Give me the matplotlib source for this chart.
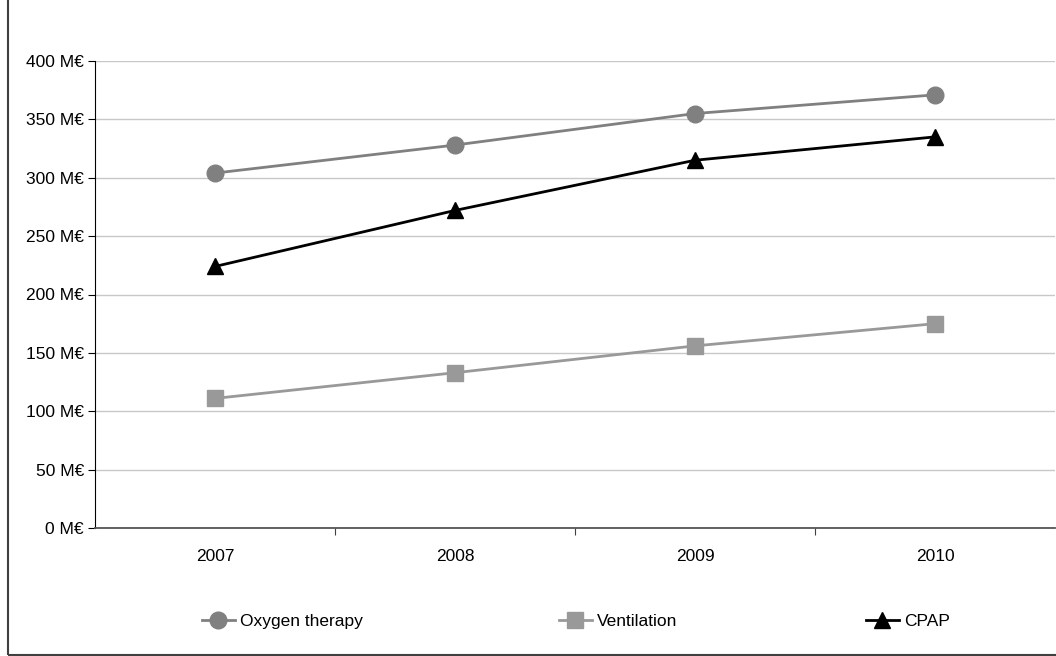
import matplotlib
matplotlib.use("Agg")
import matplotlib.pyplot as plt
from matplotlib.patches import Rectangle

plt.rcParams['font.family'] = ['Liberation Sans Narrow', 'Liberation Sans', 'DejaVu Sans']

years = ["2007", "2008", "2009", "2010"]
oxygen = [304, 328, 355, 371]
ventilation = [111, 133, 156, 175]
cpap = [224, 272, 315, 335]
y_ticks = [0, 50, 100, 150, 200, 250, 300, 350, 400]

fs = 12.5

fig = plt.figure(figsize=(10.56, 6.56), dpi=100)
ax = fig.add_axes([95 / 1056, 1 - 528 / 656, 960 / 1056, 467 / 656])

x = list(range(len(years)))
l1, = ax.plot(x, oxygen, "-o", color="#808080", lw=2, ms=12, label="Oxygen therapy", clip_on=False)
l2, = ax.plot(x, ventilation, "-s", color="#999999", lw=2, ms=11.5, label="Ventilation", clip_on=False)
l3, = ax.plot(x, cpap, "-^", color="black", lw=2, ms=12, label="CPAP", clip_on=False)

ax.set_xlim(-0.5, 3.5)
ax.set_ylim(0, 400)
ax.set_yticks(y_ticks)
ax.set_yticklabels([f"{v} M€" for v in y_ticks], fontsize=fs)
ax.set_xticks([i + 0.5 for i in range(3)])
ax.set_xticklabels([])
ax.set_xticks(x, minor=True)
ax.set_xticklabels(years, minor=True, fontsize=fs)
ax.tick_params(axis="x", which="minor", length=0, pad=15)
ax.tick_params(axis="x", which="major", length=5, color="#404040", direction="out")
ax.tick_params(axis="y", length=5, direction="out", pad=3)
ax.yaxis.grid(True, color="#c8c8c8", lw=1)
ax.set_axisbelow(True)
for s in ("top", "right"):
    ax.spines[s].set_visible(False)
ax.spines["left"].set_color("black")
ax.spines["bottom"].set_color("#555555")
ax.spines["bottom"].set_linewidth(1.3)

# legend entries spread along the bottom
for handle, xpos in ((l1, 202 / 1056), (l2, 559 / 1056), (l3, 866 / 1056)):
    fig.legend(handles=[handle], loc="center left", bbox_to_anchor=(xpos, 1 - 621 / 656),
               frameon=False, fontsize=fs, handlelength=1.9, handletextpad=0.3,
               borderaxespad=0, borderpad=0)

# outer chart frame
fig.patches.append(Rectangle((8 / 1056, 1 / 656), 1.2, 1.2, transform=fig.transFigure,
                             fill=False, edgecolor="#404040", lw=1.5))

fig.savefig("out.png", dpi=100)
